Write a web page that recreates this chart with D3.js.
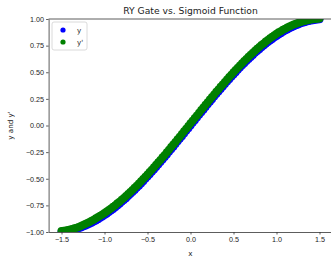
<!DOCTYPE html>
<html>
<head>
<meta charset="utf-8">
<title>RY Gate vs. Sigmoid Function</title>
<script src="https://d3js.org/d3.v7.min.js"></script>
<style>
    body { margin: 0; background: #fff; overflow: hidden; }
    svg { font-family: "DejaVu Sans", sans-serif; }
    .axis path, .axis line { stroke: #333; stroke-width: 0.8; }
    .axis text { fill: #222; font-size: 7.2px; }
</style>
</head>
<body>
<svg width="331" height="260"></svg>
<script>
// x samples (same grid for both series)
const xs = [-1.5,-1.475,-1.45,-1.425,-1.4,-1.375,-1.35,-1.325,-1.3,-1.275,-1.25,-1.225,-1.2,-1.175,-1.15,-1.125,-1.1,-1.075,-1.05,-1.025,
    -1,-0.975,-0.95,-0.925,-0.9,-0.875,-0.85,-0.825,-0.8,-0.775,-0.75,-0.725,-0.7,-0.675,-0.65,-0.625,-0.6,-0.575,-0.55,-0.525,
    -0.5,-0.475,-0.45,-0.425,-0.4,-0.375,-0.35,-0.325,-0.3,-0.275,-0.25,-0.225,-0.2,-0.175,-0.15,-0.125,-0.1,-0.075,-0.05,-0.025,
    0,0.025,0.05,0.075,0.1,0.125,0.15,0.175,0.2,0.225,0.25,0.275,0.3,0.325,0.35,0.375,0.4,0.425,0.45,0.475,
    0.5,0.525,0.55,0.575,0.6,0.625,0.65,0.675,0.7,0.725,0.75,0.775,0.8,0.825,0.85,0.875,0.9,0.925,0.95,0.975,
    1,1.025,1.05,1.075,1.1,1.125,1.15,1.175,1.2,1.225,1.25,1.275,1.3,1.325,1.35,1.375,1.4,1.425,1.45,1.475,1.5];

// y (RY gate)
const yRY = [-0.998,-0.995,-0.993,-0.989,-0.985,-0.981,-0.976,-0.970,-0.964,-0.957,-0.949,-0.941,-0.932,-0.923,-0.913,-0.902,-0.891,-0.880,-0.867,-0.855,
    -0.841,-0.828,-0.813,-0.799,-0.783,-0.768,-0.751,-0.735,-0.717,-0.700,-0.682,-0.663,-0.644,-0.625,-0.605,-0.585,-0.565,-0.544,-0.523,-0.501,
    -0.479,-0.457,-0.435,-0.412,-0.389,-0.366,-0.343,-0.319,-0.296,-0.272,-0.247,-0.223,-0.199,-0.174,-0.149,-0.125,-0.100,-0.075,-0.050,-0.025,
    0,0.025,0.050,0.075,0.100,0.125,0.149,0.174,0.199,0.223,0.247,0.272,0.296,0.319,0.343,0.366,0.389,0.412,0.435,0.457,
    0.479,0.501,0.523,0.544,0.565,0.585,0.605,0.625,0.644,0.663,0.682,0.700,0.717,0.735,0.751,0.768,0.783,0.799,0.813,0.828,
    0.841,0.855,0.867,0.880,0.891,0.902,0.913,0.923,0.932,0.941,0.949,0.957,0.964,0.970,0.976,0.981,0.985,0.989,0.993,0.995,0.998];

// y' (sigmoid)
const ySig = [-0.991,-0.988,-0.985,-0.981,-0.976,-0.971,-0.965,-0.959,-0.952,-0.944,-0.935,-0.926,-0.916,-0.906,-0.895,-0.884,-0.872,-0.860,-0.847,-0.835,
    -0.821,-0.808,-0.793,-0.779,-0.763,-0.748,-0.731,-0.715,-0.697,-0.680,-0.662,-0.643,-0.624,-0.605,-0.585,-0.565,-0.545,-0.524,-0.503,-0.481,
    -0.459,-0.437,-0.415,-0.392,-0.369,-0.346,-0.323,-0.299,-0.276,-0.252,-0.227,-0.203,-0.179,-0.154,-0.129,-0.105,-0.080,-0.055,-0.030,-0.005,
    0.020,0.045,0.070,0.095,0.120,0.145,0.169,0.194,0.219,0.243,0.267,0.292,0.316,0.339,0.363,0.386,0.409,0.432,0.455,0.477,
    0.499,0.521,0.543,0.564,0.585,0.605,0.625,0.645,0.664,0.683,0.702,0.720,0.737,0.755,0.771,0.788,0.803,0.819,0.833,0.848,
    0.861,0.875,0.886,0.898,0.909,0.920,0.930,0.939,0.948,0.956,0.963,0.970,0.977,0.982,0.987,0.991,0.995,0.998,1.001,1.003,1.005];

const xTicks = [-1.5, -1.0, -0.5, 0.0, 0.5, 1.0, 1.5];
const yTicks = [-1.0, -0.75, -0.5, -0.25, 0.0, 0.25, 0.5, 0.75, 1.0];
const seriesNames = ["y", "y'"];
const seriesColors = ["#0000ff", "#008000"];

const svg = d3.select("svg");
const mLeft = 48.6, mRight = 332.4, mTop = 19, mBottom = 232;

const x = d3.scaleLinear().domain([-1.65, 1.65]).range([mLeft, mRight]);
const y = d3.scaleLinear().domain([-1, 1]).range([mBottom, mTop]);

svg.append("clipPath").attr("id", "plotclip")
    .append("rect")
    .attr("x", mLeft).attr("y", mTop)
    .attr("width", mRight - mLeft).attr("height", mBottom - mTop);

// points, blue first then green on top
const plot = svg.append("g").attr("clip-path", "url(#plotclip)");
[yRY, ySig].forEach((ys, i) => {
    plot.append("g")
        .selectAll("circle")
        .data(xs.map((v, j) => [v, ys[j]]))
        .enter().append("circle")
        .attr("cx", d => x(d[0]))
        .attr("cy", d => y(d[1]))
        .attr("r", 4)
        .attr("fill", seriesColors[i]);
});

// axes
svg.append("g")
    .attr("class", "axis")
    .attr("transform", `translate(0,${mBottom})`)
    .call(d3.axisBottom(x).tickValues(xTicks).tickFormat(d3.format(".1f")).tickSize(2.5).tickSizeOuter(0).tickPadding(2));

svg.append("g")
    .attr("class", "axis")
    .attr("transform", `translate(${mLeft},0)`)
    .call(d3.axisLeft(y).tickValues(yTicks).tickFormat(d3.format(".2f")).tickSize(2.5).tickSizeOuter(0).tickPadding(2));

// top and right spines
svg.append("line")
    .attr("x1", mLeft).attr("x2", mRight)
    .attr("y1", mTop).attr("y2", mTop)
    .attr("stroke", "#333").attr("stroke-width", 0.8);
svg.append("line")
    .attr("x1", mRight).attr("x2", mRight)
    .attr("y1", mTop).attr("y2", mBottom)
    .attr("stroke", "#333").attr("stroke-width", 0.8);

// title and labels
svg.append("text")
    .attr("x", (mLeft + mRight) / 2).attr("y", 14)
    .attr("text-anchor", "middle")
    .attr("font-size", 9.2).attr("fill", "#222")
    .text("RY Gate vs. Sigmoid Function");

svg.append("text")
    .attr("x", (mLeft + mRight) / 2).attr("y", 256)
    .attr("text-anchor", "middle")
    .attr("font-size", 7.2).attr("fill", "#222")
    .text("x");

svg.append("text")
    .attr("transform", `translate(13,${(mTop + mBottom) / 2}) rotate(-90)`)
    .attr("text-anchor", "middle")
    .attr("font-size", 7.2).attr("fill", "#222")
    .text("y and y'");

// legend
const legend = svg.append("g").attr("transform", "translate(52,22)");
legend.append("rect")
    .attr("width", 35).attr("height", 28).attr("rx", 2)
    .attr("fill", "#fff").attr("fill-opacity", 0.8)
    .attr("stroke", "#d0d0d0").attr("stroke-width", 0.8);
seriesNames.forEach((name, i) => {
    const g = legend.append("g").attr("transform", `translate(0,${8 + i * 12})`);
    g.append("circle").attr("cx", 11).attr("cy", 0).attr("r", 2.6).attr("fill", seriesColors[i]);
    g.append("text").attr("x", 25).attr("y", 2.5)
        .attr("font-size", 7.2).attr("fill", "#222").text(name);
});
</script>
</body>
</html>
